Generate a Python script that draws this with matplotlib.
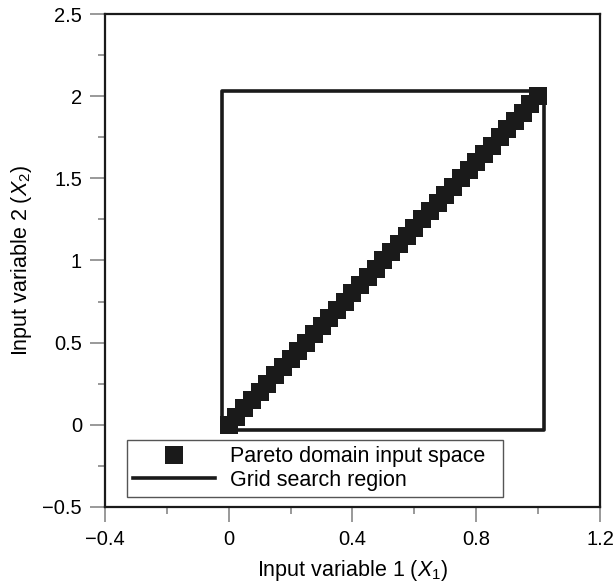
import matplotlib
matplotlib.use('Agg')
import matplotlib.pyplot as plt

plt.rcParams['font.family'] = ['Liberation Sans', 'DejaVu Sans']
plt.rcParams['mathtext.fontset'] = 'custom'
plt.rcParams['mathtext.rm'] = 'Liberation Sans'
plt.rcParams['mathtext.it'] = 'Liberation Sans:italic'

# Pareto domain points (input space)
x1 = [0.0, 0.025, 0.05, 0.075, 0.1, 0.125, 0.15, 0.175, 0.2, 0.225,
      0.25, 0.275, 0.3, 0.325, 0.35, 0.375, 0.4, 0.425, 0.45, 0.475,
      0.5, 0.525, 0.55, 0.575, 0.6, 0.625, 0.65, 0.675, 0.7, 0.725,
      0.75, 0.775, 0.8, 0.825, 0.85, 0.875, 0.9, 0.925, 0.95, 0.975, 1.0]
x2 = [0.0, 0.05, 0.1, 0.15, 0.2, 0.25, 0.3, 0.35, 0.4, 0.45,
      0.5, 0.55, 0.6, 0.65, 0.7, 0.75, 0.8, 0.85, 0.9, 0.95,
      1.0, 1.05, 1.1, 1.15, 1.2, 1.25, 1.3, 1.35, 1.4, 1.45,
      1.5, 1.55, 1.6, 1.65, 1.7, 1.75, 1.8, 1.85, 1.9, 1.95, 2.0]

# grid search region corners
grid_x = [-0.02, 1.02, 1.02, -0.02, -0.02]
grid_y = [-0.03, -0.03, 2.03, 2.03, -0.03]

xticks = [-0.4, 0, 0.4, 0.8, 1.2]
xlabels = ['\u22120.4', '0', '0.4', '0.8', '1.2']
yticks = [-0.5, 0, 0.5, 1, 1.5, 2, 2.5]
ylabels = ['\u22120.5', '0', '0.5', '1', '1.5', '2', '2.5']
xminor = [-0.2, 0.2, 0.6, 1.0]
yminor = [-0.25, 0.25, 0.75, 1.25, 1.75, 2.25]

fs = 15.5

fig = plt.figure(figsize=(6.13, 5.88), dpi=100)
ax = fig.add_axes([0.171, 0.138, 0.808, 0.838])

ax.plot(x1, x2, 's', color='#1a1a1a', markersize=12.5, markeredgewidth=0,
        label='Pareto domain input space')
ax.plot(grid_x, grid_y, '-', color='#1a1a1a', linewidth=2.6,
        label='Grid search region')

ax.set_xlim(-0.4, 1.2)
ax.set_ylim(-0.5, 2.5)
ax.set_xticks(xticks)
ax.set_xticklabels(xlabels)
ax.set_yticks(yticks)
ax.set_yticklabels(ylabels)
ax.set_xticks(xminor, minor=True)
ax.set_yticks(yminor, minor=True)

ax.tick_params(which='both', direction='out', color='#888888', width=1.2,
               labelsize=14.5, top=False, right=False)
ax.tick_params(which='major', length=10.5, pad=6)
ax.tick_params(which='minor', length=5)

for s in ax.spines.values():
    s.set_linewidth(1.6)
    s.set_color('#1a1a1a')

ax.set_xlabel(r'Input variable 1 ($X_1$)', fontsize=fs, labelpad=7)
ax.set_ylabel(r'Input variable 2 ($X_2$)', fontsize=fs, labelpad=6)

leg = ax.legend(loc='lower left', bbox_to_anchor=(0.044, 0.02, 0.76, 0.12),
                mode='expand', fontsize=fs, frameon=True, fancybox=False,
                framealpha=1, edgecolor='#555555', handlelength=3.8,
                handletextpad=0.7, borderpad=0.3, labelspacing=0.1,
                borderaxespad=0)
leg.get_frame().set_linewidth(1.0)

fig.savefig('out.png', dpi=100)
